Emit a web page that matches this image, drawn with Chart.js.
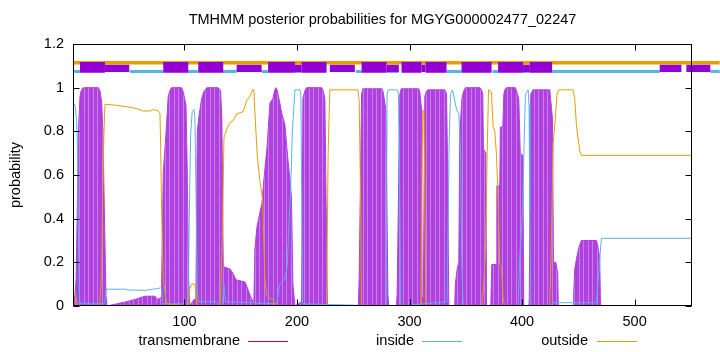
<!DOCTYPE html>
<html>
<head>
<meta charset="utf-8">
<script src="https://cdn.jsdelivr.net/npm/chart.js@4.4.1/dist/chart.umd.min.js"></script>
<style>
  html, body { margin: 0; padding: 0; background: #fff; }
  #wrap { width: 720px; height: 352px; }
</style>
</head>
<body>
<div id="wrap"><canvas id="chart" width="720" height="352"></canvas></div>
<script>
// sequence range and ticks
const X_MIN = 1;
const X_MAX = 551;
const xTicks = [100, 200, 300, 400, 500];
const yTicks = [0, 0.2, 0.4, 0.6, 0.8, 1, 1.2];

// posterior probabilities: [residue, probability]
const transmembrane = [
  [1,0.02],[2.8,0.05],[3.7,0.12],[5.0,0.5],[5.7,0.79],[7.2,0.96],[8.2,0.985],[9.5,0.997],[10.5,1.0],[23.5,1.0],[25.0,0.985],[26.5,0.93],[27.6,0.8],[29.0,0.4],[30.3,0.05],[31.2,0],
  [48.7,0.02],[56.1,0.03],[64.9,0.045],[73.8,0.045],[76.5,0.03],[79.2,0.04],
  [79.8,0.12],[81.2,0.61],[83.6,0.79],[85.6,0.96],[87.0,0.985],[88.5,1.0],[97.5,1.0],[99.0,0.98],[101.4,0.92],[102.5,0.63],[103.8,0.12],[104.9,0],
  [108.5,0.03],[110.2,0.03],[111.4,0.8],[113.2,0.88],[115.3,0.95],[117.5,0.985],[120.0,1.0],[130.0,1.0],[131.6,0.99],[132.2,0.98],[133.3,0.85],[134.5,0.18],
  [140.4,0.17],[143.1,0.15],[145.8,0.12],[153.8,0.11],[155.5,0.09],[158.2,0.05],[160.9,0.02],[161.7,0.02],
  [162.6,0.26],[164.4,0.36],[167.1,0.43],[168.9,0.47],[170.6,0.58],[173.3,0.72],[176.0,0.93],[178.6,0.95],[180.3,0.99],[181.3,1.0],[182.3,0.99],[184.0,0.95],
  [186.6,0.88],[189.3,0.83],[191.1,0.72],[193.3,0.6],[195.1,0.5],[196.4,0.1],[198.2,0],
  [204.1,0.02],[205.3,0.95],[207.0,0.985],[208.5,1.0],[222.0,1.0],[223.3,0.985],[224.8,0.95],[226.3,0.3],[227.0,0],
  [254.5,0],[255.3,0.13],[257.4,0.97],[258.5,0.995],[275.5,0.995],[276.6,0.98],[279.0,0.9],[280.8,0.05],[281.6,0],
  [288.3,0],[289.0,0.05],[291.4,0.97],[292.6,0.995],[308.2,0.995],[309.2,0.98],[310.7,0.9],[311.2,0.02],
  [312.3,0.05],[313.6,0.96],[315.1,0.985],[316.5,0.99],[331.5,0.99],[332.9,0.97],[334.0,0.6],[334.9,0],
  [340.2,0],[340.7,0.1],[342.3,0.17],[343.8,0.2],[344.7,0.79],[346.5,0.95],[348.2,0.985],[349.8,1.0],[362.5,1.0],[364.0,0.99],[365.1,0.97],[365.7,0.72],[367.8,0.7],[368.4,0],
  [372.2,0],[373.1,0.19],[377.3,0.19],[377.6,0.55],[380.2,0.55],[380.7,0.82],[382.9,0.82],[383.8,0.97],[384.7,0.99],[386.0,1.0],[394.0,1.0],[395.1,0.985],[397.1,0.95],[398.4,0.7],[400.7,0.69],[401.5,0],
  [406.0,0],[406.4,0.03],[407.7,0.97],[409.8,0.99],[424.6,0.99],[427.0,0.86],[427.9,0.2],[430.0,0.2],[431.7,0.15],[432.2,0],
  [445.5,0],[445.9,0.06],[446.8,0.17],[448.9,0.23],[450.6,0.27],[452.8,0.3],[466.1,0.3],[467.5,0.27],[469.0,0.22],[469.7,0],[551,0]
];

const inside = [
  [1,0.93],[2.8,0.92],[4.1,0.86],[5.0,0.73],[5.9,0.3],[6.8,0.03],[7.7,0.01],[28.5,0.01],[29.4,0.02],
  [30.3,0.077],[47.2,0.077],[49.8,0.073],[66.5,0.072],[69.4,0.075],[76.5,0.08],[79.8,0.085],[80.7,0.01],
  [103.4,0.01],[104.3,0.4],[105.5,0.78],[106.9,0.89],[108.5,0.9],[109.3,0.87],[110.2,0.55],[111.4,0.07],[112.6,0.02],
  [128.6,0.02],[131.6,0],[133.8,0.02],[135.1,0.1],[136.4,0.02],
  [181.9,0.01],[184.8,0.1],[189.0,0.12],[191.3,0.18],[193.1,0.4],[194.3,0.52],[195.9,0.8],[198.2,0.99],[202.6,0.99],[203.5,0.97],[204.1,0.55],[205.0,0.01],
  [279.2,0],[280.1,0.97],[281.0,0.99],[289.0,0.99],[290.2,0.97],[291.4,0.43],[292.0,0],
  [333.4,0.02],[335.2,0.74],[336.4,0.97],[338.2,0.99],[340.2,0.94],[341.8,0.9],[343.8,0.88],[345.3,0.72],[346.2,0.26],[347.6,0],
  [396.5,0],[398.0,0.23],[400.4,0.42],[401.8,0.74],[403.0,0.97],[405.4,0.99],[406.2,0.92],[406.9,0.43],[407.8,0],
  [426.1,0],[427.0,0.015],[466.1,0.015],[466.6,0.05],[470.5,0.31],[551,0.31]
];

const outside = [
  [1,0.072],[2.8,0.06],[4.3,0.02],[5.4,0],[24.5,0],[25.4,0.06],[26.5,0.17],[27.4,0.55],[28.5,0.79],[29.4,0.924],
  [38.3,0.92],[48.7,0.913],[57.6,0.904],[63.4,0.893],[69.4,0.893],[72.3,0.9],[76.5,0.895],[78.3,0.88],[78.9,0.72],[79.8,0.42],[81.2,0.12],[84.2,0.01],
  [103.4,0],[104.9,0.08],[106.4,0.1],[109.3,0.1],[110.2,0.07],[111.4,0],
  [131.1,0],[132.2,0.05],[133.9,0.35],[135.1,0.77],[137.5,0.81],[140.4,0.84],[143.4,0.85],[146.4,0.88],[152.2,0.89],[155.3,0.94],[158.2,0.96],[160.6,0.99],[161.7,0.99],
  [162.6,0.89],[164.7,0.69],[167.1,0.57],[169.5,0.49],[170.0,0.4],[171.5,0.12],[173.0,0.05],[175.9,0.035],[178.9,0.03],[180.4,0],
  [226.3,0],[227.7,0.7],[229.2,0.99],[254.1,0.99],[255.3,0.94],[256.5,0.5],[257.4,0],
  [310.1,0],[311.0,0.55],[311.8,0.9],[312.7,0.88],[313.6,0.55],[314.5,0],
  [364.2,0],[366.0,0.1],[367.8,0.3],[369.0,0.7],[370.2,0.99],[372.8,0.98],[374.3,0.82],[375.8,0.8],[377.3,0.69],[378.7,0.49],[380.2,0.19],[381.7,0.18],[383.2,0.03],[384.7,0],
  [424.6,0],[426.1,0.3],[427.6,0.74],[429.1,0.83],[431.1,0.97],[432.4,0.99],[445.3,0.99],[446.8,0.95],[448.3,0.83],[449.7,0.77],[451.3,0.71],[452.8,0.69],[551,0.69]
];

// predicted topology strip above the curves: [start, end]
const topOutside = [[1, 575.6]];
const topInside = [[1,7.2],[51.6,81.2],[103.1,112],[134.2,146.4],[168.6,174.4],[198,204],[252.3,257.4],[279.6,290.5],
  [332.9,346.2],[373.7,378.7],[400.9,406.9],[426.7,522.3],[567.3,575.6]];
const topHelixTall = [[7.2,29.4],[81.2,103.4],[112.3,134.5],[174.4,198.2],[204.1,226.3],[257.4,279.6],[292.9,310.7],
  [314.2,332.9],[346.2,372.9],[378.7,400.9],[406.9,426.7]];
const topHelixShort = [[29.4,51.0],[146.4,168.6],[198.2,204.1],[229.2,251.4],[279.6,290.5],[310.7,314.2],[400.9,406.9],
  [522.3,541.6],[546,567.3]];

const PURPLE = '#9400d3';
const TM_FILL = '#b040e0';
const TM_STRIPE = '#c67fe9';
const BLUE = '#56b4e9';
const ORANGE = '#e69f00';
const FONT = 'Liberation Sans, Arial, sans-serif';
const FS = 14.5;

const pts = arr => arr.map(([x, y]) => ({x, y}));
const segs = (arr, y) => arr.flatMap(([a, b]) => [{x: a, y}, {x: b, y}, {x: b, y: null}]);

// impulses look: solid purple with faint lighter gaps
function impulsePattern() {
  const c = document.createElement('canvas');
  c.width = 9; c.height = 1;
  const g = c.getContext('2d');
  g.fillStyle = TM_FILL;
  g.fillRect(0, 0, 9, 1);
  g.fillStyle = TM_STRIPE;
  g.fillRect(3, 0, 1, 1);
  g.fillRect(7, 0, 1, 1);
  return g.createPattern(c, 'repeat');
}

const strip = (data, color, width, order) => ({
  data, borderColor: color, borderWidth: width, borderCapStyle: 'butt',
  pointRadius: 0, spanGaps: false, clip: false, order, fill: false
});

// frame, inward ticks and gnuplot style key
const gnuplotBits = {
  id: 'gnuplotBits',
  afterDraw(chart) {
    const {ctx, chartArea: a, scales: {x, y}} = chart;
    const L = Math.round(a.left) + 0.5, R = Math.round(a.right) - 0.5;
    const T = Math.round(a.top) + 0.5, B = Math.round(a.bottom) - 0.5;
    ctx.save();
    ctx.strokeStyle = '#000';
    ctx.lineWidth = 1;
    ctx.beginPath();
    yTicks.forEach(v => {
      const py = Math.round(y.getPixelForValue(v)) + 0.5;
      ctx.moveTo(L, py); ctx.lineTo(L + 6, py);
      ctx.moveTo(R, py); ctx.lineTo(R - 6, py);
    });
    xTicks.forEach(v => {
      const px = Math.round(x.getPixelForValue(v)) + 0.5;
      ctx.moveTo(px, B); ctx.lineTo(px, B - 6);
      ctx.moveTo(px, T); ctx.lineTo(px, T + 6);
    });
    ctx.stroke();
    ctx.strokeRect(L, T, R - L, B - T);

    ctx.font = FS + 'px ' + FONT;
    ctx.fillStyle = '#000';
    ctx.textAlign = 'right';
    ctx.textBaseline = 'middle';
    const key = [['transmembrane', 240, 248, PURPLE], ['inside', 414, 422, BLUE], ['outside', 588, 597, ORANGE]];
    key.forEach(([label, tx, lx, color]) => {
      ctx.fillText(label, tx, 341);
      ctx.strokeStyle = color;
      ctx.beginPath();
      ctx.moveTo(lx, 341.5); ctx.lineTo(lx + 40, 341.5);
      ctx.stroke();
    });
    ctx.restore();
  }
};

Chart.defaults.color = '#000';
Chart.defaults.font.family = FONT;
Chart.defaults.font.size = FS;

new Chart(document.getElementById('chart'), {
  type: 'line',
  data: {
    datasets: [
      strip(segs(topHelixTall, 1.0925), PURPLE, 10.7, 0),
      strip(segs(topHelixShort, 1.088), PURPLE, 7.3, 1),
      strip(segs(topInside, 1.0743), BLUE, 3, 2),
      strip(segs(topOutside, 1.1143), ORANGE, 3.4, 3),
      {label: 'outside', data: pts(outside), borderColor: ORANGE, borderWidth: 1, pointRadius: 0, order: 4, fill: false},
      {label: 'inside', data: pts(inside), borderColor: BLUE, borderWidth: 1, pointRadius: 0, order: 5, fill: false},
      {label: 'transmembrane', data: pts(transmembrane), borderColor: TM_FILL, backgroundColor: impulsePattern(),
        borderWidth: 1, pointRadius: 0, order: 6, fill: 'origin'}
    ]
  },
  options: {
    responsive: false,
    animation: false,
    events: [],
    layout: { padding: { left: 0, right: 28, top: 0, bottom: 0 } },
    plugins: {
      legend: { display: false },
      tooltip: { enabled: false },
      title: {
        display: true,
        fullSize: false,
        text: 'TMHMM posterior probabilities for MGYG000002477_02247',
        font: { size: FS, weight: 'normal' },
        padding: { top: 11, bottom: 15.6 }
      }
    },
    scales: {
      x: {
        type: 'linear',
        bounds: 'data',
        afterDataLimits(s) { s.min = X_MIN; s.max = X_MAX; },
        afterBuildTicks(s) { s.ticks = xTicks.map(v => ({value: v})); },
        afterFit(s) { s.height = 46; },
        grid: { display: false, drawTicks: false },
        border: { display: false },
        ticks: { padding: 7, maxRotation: 0, autoSkip: false }
      },
      y: {
        min: 0,
        max: 1.2,
        afterBuildTicks(s) { s.ticks = yTicks.map(v => ({value: v})); },
        afterFit(s) { s.width = 73; },
        grid: { display: false, drawTicks: false },
        border: { display: false },
        ticks: { padding: 9, callback: v => String(+v.toFixed(1)) },
        title: { display: true, text: 'probability', padding: { top: 7.3, bottom: 0 } }
      }
    }
  },
  plugins: [gnuplotBits]
});
</script>
</body>
</html>
